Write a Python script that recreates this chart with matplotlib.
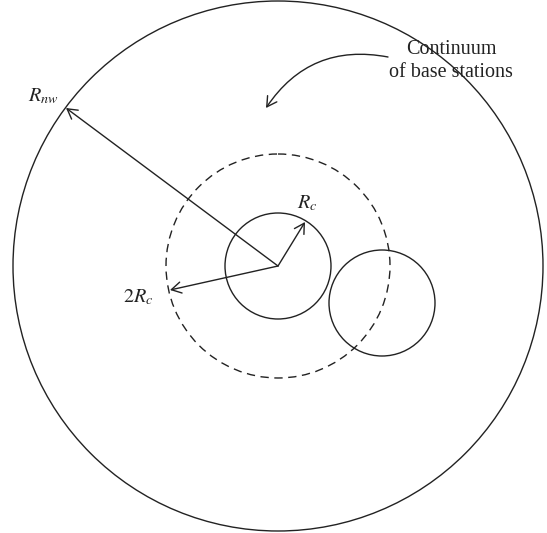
import matplotlib.pyplot as plt
from matplotlib.patches import Circle, FancyArrowPatch

plt.rcParams['font.family'] = ['Liberation Serif', 'DejaVu Serif']
plt.rcParams['mathtext.fontset'] = 'stix'

# geometry in pixel units (y grows downward)
center = (278, 266)
r_nw = 265
r_c = 53
r_2c = 112
neighbor = (382, 303)

# radius arrows: tip points
tip_nw = (66, 108)
tip_c = (305, 222)
tip_2c = (170, 290)

labels = [r"$R_{nw}$", r"$R_c$", r"$2R_c$"]
label_pos = [(43, 96), (307, 203), (138, 297)]

fig = plt.figure(figsize=(5.47, 5.33), dpi=100)
ax = fig.add_axes([0, 0, 1, 1])
ax.set_xlim(0, 547)
ax.set_ylim(533, 0)
ax.set_aspect('equal')
ax.axis('off')

lw = 1.0
ax.add_patch(Circle(center, r_nw, fill=False, lw=lw, color='#222222'))
ax.add_patch(Circle(center, r_2c, fill=False, lw=lw, color='#222222', ls=(0, (6, 4))))
ax.add_patch(Circle(center, r_c, fill=False, lw=lw, color='#222222'))
ax.add_patch(Circle(neighbor, r_c, fill=False, lw=lw, color='#222222'))

for tip in [tip_nw, tip_c, tip_2c]:
    ax.add_patch(FancyArrowPatch(center, tip, arrowstyle='->,head_length=7,head_width=4',
                                 lw=lw, color='#222222', shrinkA=0, shrinkB=0))

for txt, (x, y) in zip(labels, label_pos):
    ax.text(x, y, txt, fontsize=14.5, ha='center', va='center', color='#222222')

# curved arrow pointing into the continuum
ax.add_patch(FancyArrowPatch((388, 57), (266, 108), connectionstyle='arc3,rad=0.33',
                             arrowstyle='->,head_length=7,head_width=4',
                             lw=lw, color='#222222', shrinkA=0, shrinkB=0))

ax.text(451, 61, "Continuum\nof base stations", fontsize=14.5, ha='center', va='center',
        linespacing=1.25, color='#222222')

fig.savefig('out.png', dpi=100)
